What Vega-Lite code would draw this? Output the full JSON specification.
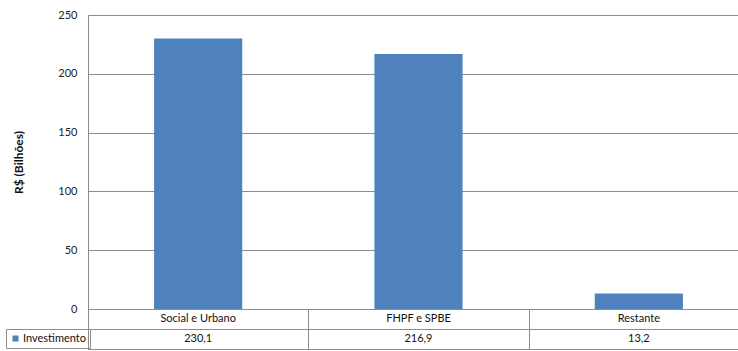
{
  "$schema": "https://vega.github.io/schema/vega-lite/v6.json",
  "padding": {"left": 5, "top": 9, "right": 0, "bottom": 0},
  "background": "white",
  "data": {
    "values": [
      {"setor": "Social e Urbano", "serie": "Investimento", "valor": 230.1},
      {"setor": "FHPF e SPBE", "serie": "Investimento", "valor": 216.9},
      {"setor": "Restante", "serie": "Investimento", "valor": 13.2}
    ]
  },
  "bounds": "flush",
  "spacing": 0,
  "resolve": {"scale": {"x": "independent"}, "legend": {"color": "independent"}},
  "vconcat": [
    {
      "width": 661,
      "height": 294,
      "view": {"stroke": null},
      "mark": {"type": "bar"},
      "encoding": {
        "x": {
          "field": "setor",
          "type": "nominal",
          "sort": null,
          "scale": {"paddingInner": 0.6, "paddingOuter": 0.3},
          "axis": null
        },
        "y": {
          "field": "valor",
          "type": "quantitative",
          "scale": {"domain": [0, 250], "nice": false},
          "axis": {
            "title": "R$ (Bilhões)",
            "titleFontSize": 12,
            "titleFontWeight": "bold",
            "titleColor": "#111",
            "titlePadding": 32,
            "values": [0, 50, 100, 150, 200, 250],
            "labelFontSize": 11,
            "labelColor": "#222",
            "labelPadding": 11,
            "ticks": false,
            "domainColor": "#8c8c8c",
            "grid": true,
            "gridColor": "#8c8c8c"
          }
        },
        "color": {
          "field": "serie",
          "type": "nominal",
          "scale": {"range": ["#4F81BD"]},
          "legend": {
            "title": null,
            "orient": "none",
            "legendX": -82,
            "legendY": 314,
            "symbolType": "square",
            "symbolSize": 36,
            "labelFontSize": 11,
            "labelColor": "#111",
            "labelOffset": 2,
            "padding": 4,
            "strokeColor": "#8c8c8c"
          }
        }
      }
    },
    {
      "width": 661,
      "height": 20,
      "view": {"stroke": "#8c8c8c"},
      "mark": {"type": "text", "fontSize": 11, "color": "#111"},
      "encoding": {
        "x": {
          "field": "setor",
          "type": "nominal",
          "sort": null,
          "scale": {"paddingInner": 0, "paddingOuter": 0},
          "axis": {
            "title": null,
            "orient": "top",
            "labels": false,
            "ticks": false,
            "domain": false,
            "grid": true,
            "gridColor": "#8c8c8c",
            "tickBand": "extent"
          }
        },
        "text": {"field": "setor", "type": "nominal"}
      }
    },
    {
      "width": 661,
      "height": 20,
      "view": {"stroke": "#8c8c8c"},
      "mark": {"type": "text", "fontSize": 11, "color": "#111"},
      "encoding": {
        "x": {
          "field": "setor",
          "type": "nominal",
          "sort": null,
          "scale": {"paddingInner": 0, "paddingOuter": 0},
          "axis": {
            "title": null,
            "orient": "top",
            "labels": false,
            "ticks": false,
            "domain": false,
            "grid": true,
            "gridColor": "#8c8c8c",
            "tickBand": "extent"
          }
        },
        "text": {"field": "valor", "type": "quantitative", "format": ".1f"}
      }
    }
  ],
  "config": {
    "font": "Lato",
    "locale": {
      "number": {"decimal": ",", "thousands": ".", "grouping": [3], "currency": ["R$", ""]}
    }
  }
}
